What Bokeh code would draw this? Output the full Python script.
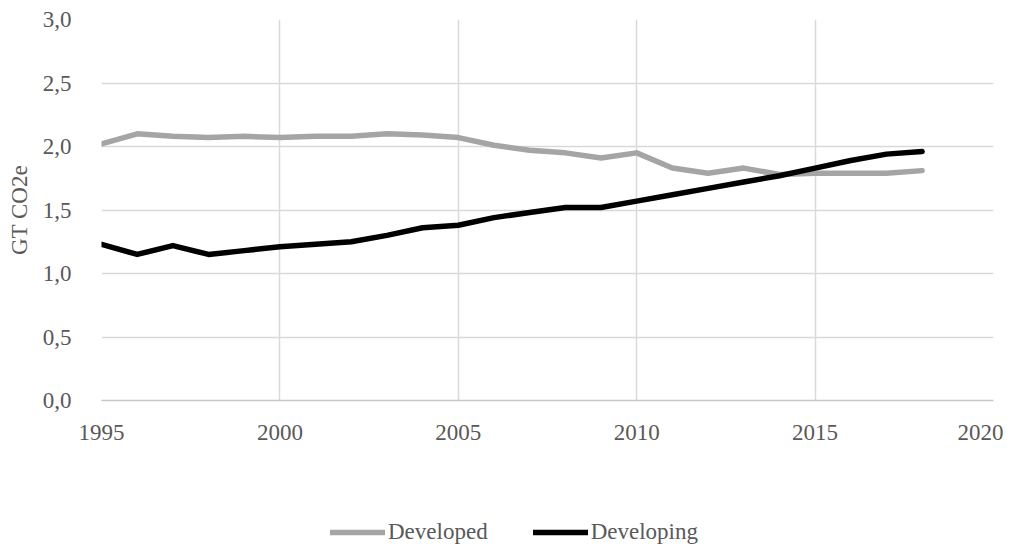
from bokeh.plotting import figure
from bokeh.layouts import column
from bokeh.models import Range1d, FixedTicker, CustomJSTickFormatter, Legend, LegendItem
from bokeh.embed import file_html
from bokeh.resources import INLINE

years = list(range(1995, 2019))
developed = [2.02, 2.10, 2.08, 2.07, 2.08, 2.07, 2.08, 2.08, 2.10, 2.09, 2.07,
             2.01, 1.97, 1.95, 1.91, 1.95, 1.83, 1.79, 1.83, 1.78, 1.79, 1.79, 1.79, 1.81]
developing = [1.23, 1.15, 1.22, 1.15, 1.18, 1.21, 1.23, 1.25, 1.30, 1.36, 1.38,
              1.44, 1.48, 1.52, 1.52, 1.57, 1.62, 1.67, 1.72, 1.77, 1.83, 1.89, 1.94, 1.96]
series_names = ["Developed", "Developing"]
series_colors = ["#a5a5a5", "#000000"]
x_ticks = [1995, 2000, 2005, 2010, 2015, 2020]
y_ticks = [0.0, 0.5, 1.0, 1.5, 2.0, 2.5, 3.0]

FONT = "Liberation Serif"
FS = "23px"
TXT = "#595959"
GRID = "#d9d9d9"

p = figure(width=1003, height=470, x_range=Range1d(1995, 2020), y_range=Range1d(0, 3),
           output_backend="svg", toolbar_location=None,
           min_border_left=101, min_border_right=10, min_border_top=19, min_border_bottom=70)
p.outline_line_color = None

p.xaxis.ticker = FixedTicker(ticks=x_ticks)
p.yaxis.ticker = FixedTicker(ticks=y_ticks)
p.yaxis.formatter = CustomJSTickFormatter(code="return tick.toFixed(1).replace('.', ',');")
for ax in (p.xaxis, p.yaxis):
    ax.major_tick_line_color = None
    ax.minor_tick_line_color = None
    ax.major_label_text_font = FONT
    ax.major_label_text_font_size = FS
    ax.major_label_text_color = TXT
p.xaxis.axis_line_color = "#c8c8c8"
p.xaxis.axis_line_width = 1.5
p.yaxis.axis_line_color = None
p.xaxis.major_label_standoff = 18
p.yaxis.major_label_standoff = 24
p.yaxis.axis_label = "GT CO2e"
p.yaxis.axis_label_text_font = FONT
p.yaxis.axis_label_text_font_style = "normal"
p.yaxis.axis_label_text_font_size = FS
p.yaxis.axis_label_text_color = TXT
p.yaxis.axis_label_standoff = 8

p.xgrid.ticker = FixedTicker(ticks=x_ticks)
p.ygrid.ticker = FixedTicker(ticks=y_ticks)
p.grid.grid_line_color = GRID
p.grid.grid_line_width = 1.5

p.line(years, developed, line_color=series_colors[0], line_width=5.5, line_join="round", line_cap="round")
p.line(years, developing, line_color=series_colors[1], line_width=5.5, line_join="round", line_cap="round")

# legend strip below the chart (its frame is aligned with the chart's frame by the column)
pl = figure(width=1003, height=78, x_range=Range1d(0, 1), y_range=Range1d(0, 1),
            output_backend="svg", toolbar_location=None,
            x_axis_type=None, y_axis_type=None,
            min_border_left=0, min_border_right=0, min_border_top=0, min_border_bottom=0)
pl.outline_line_color = None
pl.grid.visible = False
items = []
for name, col, vals in zip(series_names, series_colors, [developed, developing]):
    # same series, out of this strip's view: only its legend swatch shows
    r = pl.line(years, vals, line_color=col, line_width=5.5, line_cap="round")
    items.append(LegendItem(label=name, renderers=[r]))

legend = Legend(items=items, orientation="horizontal", location=(229, 3))
legend.label_text_font = FONT
legend.label_text_font_size = FS
legend.label_text_color = TXT
legend.glyph_width = 55
legend.glyph_height = 20
legend.label_standoff = 3
legend.spacing = 45
legend.border_line_color = None
legend.background_fill_alpha = 0
legend.margin = 0
legend.padding = 0
legend.label_height = 20
pl.add_layout(legend, "center")

layout = column(p, pl, spacing=0)
open("out.html", "w").write(file_html(layout, INLINE))
